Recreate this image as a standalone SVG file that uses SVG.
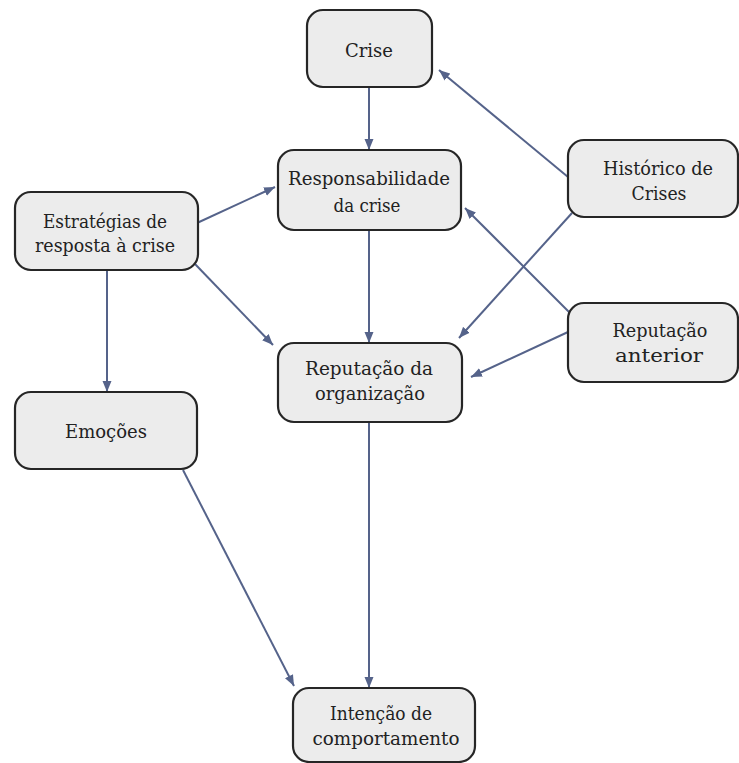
<svg xmlns="http://www.w3.org/2000/svg" width="739" height="763" viewBox="0 0 739 763">
  <defs>
    <marker id="arrow" markerUnits="userSpaceOnUse" markerWidth="12" markerHeight="10" refX="11" refY="5" orient="auto">
      <path d="M0,0.5 L11,5 L0,9.5 Z" fill="#55638a"/>
    </marker>
    <style>
      .box { fill: #ececec; stroke: #262626; stroke-width: 2.2; }
      .label { font-family: "DejaVu Serif", "Liberation Serif", serif; font-size: 18.5px; fill: #222222; text-anchor: middle; }
      .edge { stroke: #55638a; stroke-width: 2; fill: none; marker-end: url(#arrow); }
    </style>
  </defs>
  <rect width="739" height="763" fill="#ffffff"/>

  <g id="connectors">
    <line class="edge" x1="369" y1="88" x2="369" y2="150"/>
    <line class="edge" x1="568" y1="177" x2="439" y2="70"/>
    <line class="edge" x1="197" y1="223" x2="275" y2="187"/>
    <line class="edge" x1="195" y1="264" x2="273" y2="345"/>
    <line class="edge" x1="572" y1="213" x2="459" y2="338"/>
    <line class="edge" x1="570" y1="313" x2="465" y2="208"/>
    <line class="edge" x1="568" y1="332" x2="471" y2="377"/>
    <line class="edge" x1="369" y1="231" x2="369" y2="343"/>
    <line class="edge" x1="107" y1="271" x2="107" y2="392"/>
    <line class="edge" x1="183" y1="470" x2="294" y2="686"/>
    <line class="edge" x1="369" y1="423" x2="369" y2="688"/>
  </g>

  <g id="crise">
    <rect class="box" x="307" y="10" width="125" height="77" rx="16"/>
    <text class="label" x="369" y="57" textLength="48" lengthAdjust="spacingAndGlyphs">Crise</text>
  </g>

  <g id="responsabilidade">
    <rect class="box" x="278" y="150" width="183" height="80" rx="16"/>
    <text class="label" x="369" y="185" textLength="162" lengthAdjust="spacingAndGlyphs">Responsabilidade</text>
    <text class="label" x="367" y="212" textLength="67" lengthAdjust="spacingAndGlyphs">da crise</text>
  </g>

  <g id="estrategias">
    <rect class="box" x="15" y="192" width="183" height="78" rx="16"/>
    <text class="label" x="105" y="228" textLength="124" lengthAdjust="spacingAndGlyphs">Estratégias de</text>
    <text class="label" x="105" y="252" textLength="140" lengthAdjust="spacingAndGlyphs">resposta à crise</text>
  </g>

  <g id="historico">
    <rect class="box" x="568" y="140" width="170" height="77" rx="16"/>
    <text class="label" x="658" y="175" textLength="110" lengthAdjust="spacingAndGlyphs">Histórico de</text>
    <text class="label" x="659" y="200" textLength="55" lengthAdjust="spacingAndGlyphs">Crises</text>
  </g>

  <g id="reputacao-anterior">
    <rect class="box" x="568" y="303" width="170" height="79" rx="16"/>
    <text class="label" x="660" y="337" textLength="95" lengthAdjust="spacingAndGlyphs">Reputação</text>
    <text class="label" x="659" y="362" textLength="88" lengthAdjust="spacingAndGlyphs">anterior</text>
  </g>

  <g id="reputacao-organizacao">
    <rect class="box" x="278" y="343" width="184" height="79" rx="16"/>
    <text class="label" x="369" y="375" textLength="128" lengthAdjust="spacingAndGlyphs">Reputação da</text>
    <text class="label" x="370" y="400" textLength="110" lengthAdjust="spacingAndGlyphs">organização</text>
  </g>

  <g id="emocoes">
    <rect class="box" x="15" y="392" width="182" height="77" rx="16"/>
    <text class="label" x="106" y="438" textLength="82" lengthAdjust="spacingAndGlyphs">Emoções</text>
  </g>

  <g id="intencao">
    <rect class="box" x="293" y="688" width="182" height="74" rx="16"/>
    <text class="label" x="381" y="720" textLength="102" lengthAdjust="spacingAndGlyphs">Intenção de</text>
    <text class="label" x="386" y="745" textLength="147" lengthAdjust="spacingAndGlyphs">comportamento</text>
  </g>
</svg>
